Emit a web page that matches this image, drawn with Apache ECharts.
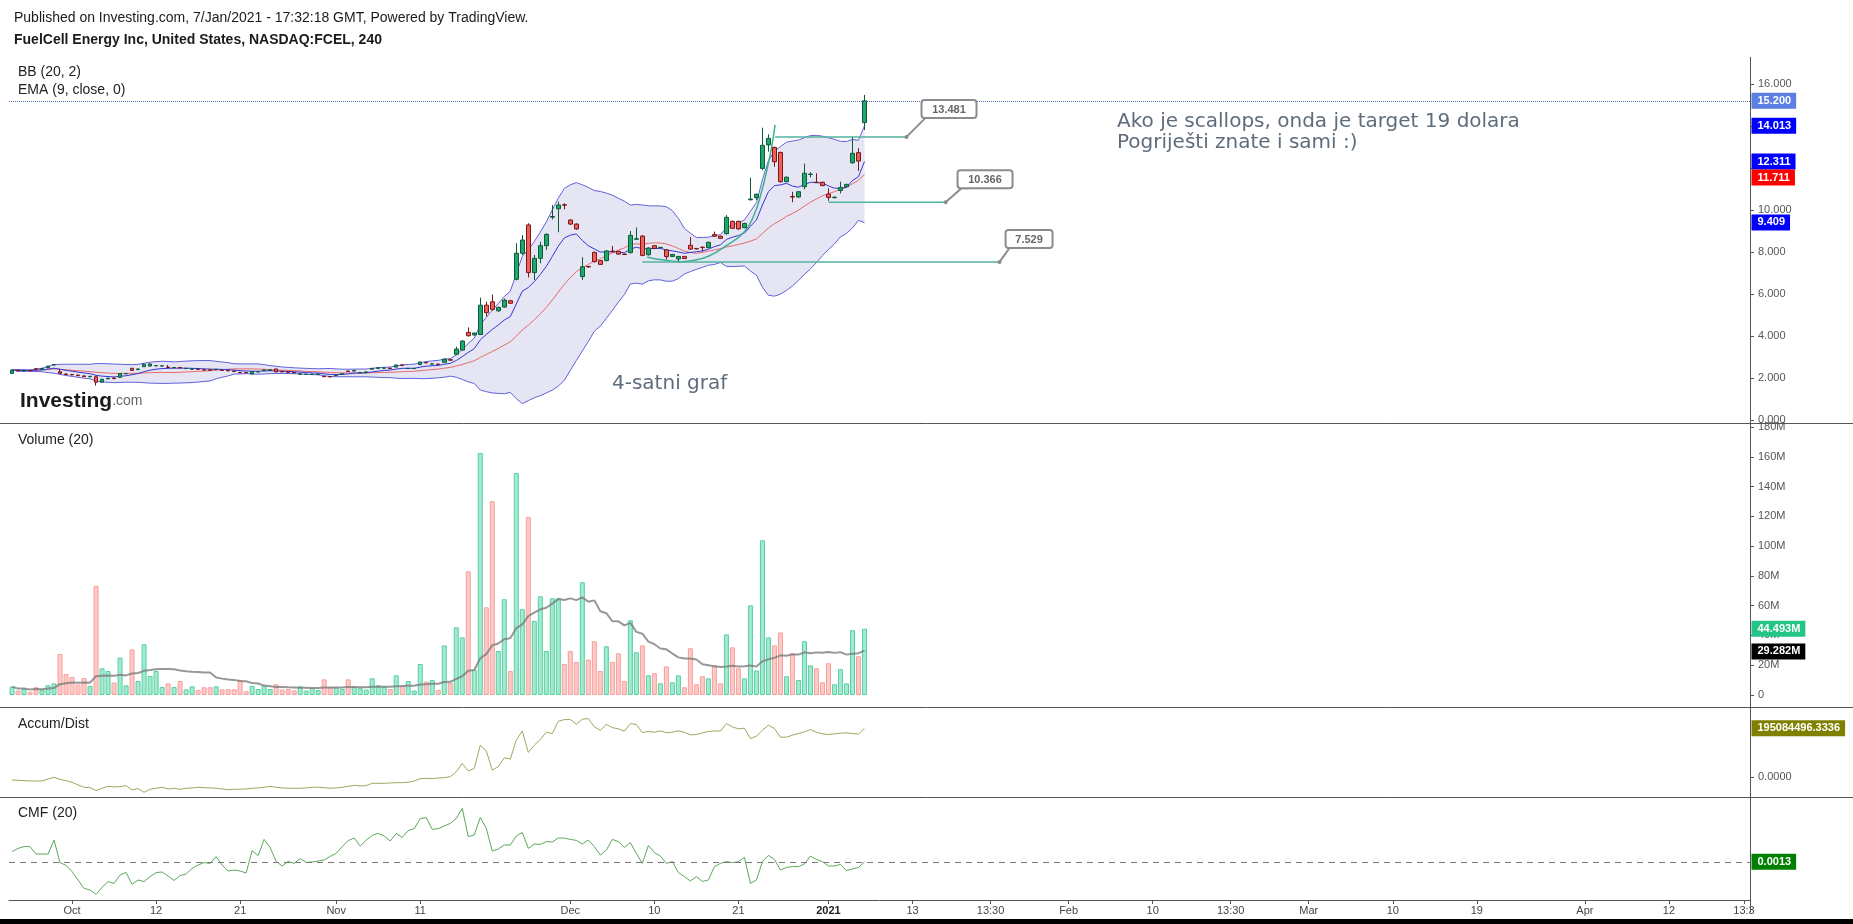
<!DOCTYPE html>
<html><head><meta charset="utf-8">
<script src="https://cdn.jsdelivr.net/npm/echarts@6/dist/echarts.min.js"></script>
<style>html,body{margin:0;padding:0;background:#fff}#c{width:1853px;height:924px}</style>
</head><body><div id="c"></div><script>
// ---------- DATA ----------
// 4h candles: [open, close, low, high]
const candles = [
[2.22,2.38,2.20,2.40],[2.36,2.34,2.32,2.38],[2.33,2.35,2.31,2.37],[2.36,2.34,2.32,2.37],[2.44,2.42,2.40,2.46],
[2.42,2.45,2.40,2.47],[2.49,2.56,2.47,2.58],[2.62,2.64,2.60,2.66],[2.30,2.22,2.20,2.40],[2.19,2.17,2.15,2.21],
[2.17,2.15,2.13,2.19],[2.14,2.11,2.10,2.16],[2.10,2.07,2.05,2.12],[2.06,2.08,2.04,2.10],[2.06,1.80,1.64,2.08],
[1.80,1.94,1.78,1.96],[1.96,1.99,1.94,2.01],[2.00,1.97,1.95,2.02],[2.03,2.21,2.01,2.23],[2.20,2.21,2.19,2.23],
[2.46,2.36,2.34,2.48],[2.40,2.43,2.38,2.45],[2.54,2.65,2.52,2.70],[2.57,2.67,2.55,2.69],[2.58,2.59,2.57,2.60],
[2.57,2.58,2.56,2.59],[2.52,2.50,2.49,2.62],[2.49,2.50,2.48,2.52],[2.50,2.48,2.47,2.51],[2.45,2.46,2.44,2.47],
[2.42,2.43,2.41,2.44],[2.42,2.41,2.40,2.43],[2.39,2.38,2.37,2.40],[2.39,2.37,2.36,2.40],[2.40,2.41,2.39,2.42],
[2.37,2.36,2.35,2.38],[2.36,2.34,2.33,2.37],[2.33,2.31,2.30,2.34],[2.27,2.25,2.24,2.28],[2.26,2.25,2.24,2.27],
[2.19,2.30,2.18,2.31],[2.29,2.30,2.28,2.31],[2.36,2.38,2.35,2.39],[2.37,2.39,2.36,2.40],[2.43,2.29,2.27,2.44],
[2.31,2.29,2.28,2.32],[2.29,2.27,2.26,2.30],[2.26,2.24,2.23,2.27],[2.18,2.20,2.17,2.21],[2.17,2.18,2.16,2.19],
[2.17,2.18,2.16,2.19],[2.17,2.19,2.16,2.20],[2.08,2.06,2.05,2.09],[2.07,2.05,2.04,2.08],[2.11,2.13,2.10,2.14],
[2.18,2.20,2.17,2.21],[2.33,2.31,2.30,2.34],[2.33,2.36,2.32,2.37],[2.25,2.26,2.24,2.27],[2.26,2.29,2.25,2.30],
[2.42,2.46,2.41,2.47],[2.46,2.49,2.45,2.50],[2.47,2.48,2.46,2.49],[2.47,2.45,2.44,2.48],[2.52,2.62,2.51,2.63],
[2.62,2.60,2.59,2.63],[2.45,2.46,2.44,2.47],[2.45,2.46,2.44,2.47],[2.64,2.76,2.62,2.78],[2.74,2.72,2.71,2.75],
[2.66,2.67,2.65,2.69],[2.66,2.65,2.64,2.67],[2.75,2.90,2.73,2.92],[2.87,2.85,2.84,2.88],[3.13,3.38,3.10,3.49],
[3.33,3.76,3.30,3.80],[4.17,4.01,3.98,4.41],[4.05,4.14,4.02,4.16],[4.07,5.47,4.05,5.83],[5.47,5.11,4.92,5.63],
[5.63,5.27,5.20,5.98],[5.20,5.36,5.15,5.40],[5.38,5.71,5.35,5.78],[5.68,5.56,5.54,5.72],[6.70,7.94,6.65,8.41],
[7.94,8.57,7.85,8.81],[9.29,7.02,6.79,9.37],[7.02,7.70,6.67,7.86],[7.70,8.30,7.46,8.49],[8.30,8.84,8.10,8.89],
[9.66,9.69,9.55,10.24],[10.06,10.24,8.94,10.40],[10.25,10.23,10.03,10.32],[9.52,9.33,9.28,9.56],[9.33,9.10,9.05,9.36],
[6.83,7.30,6.67,7.75],[7.31,7.29,7.25,7.34],[7.98,7.54,7.50,8.02],[7.59,7.41,7.38,7.62],[7.59,8.05,7.55,8.09],
[8.04,8.02,7.98,8.29],[8.03,7.90,7.87,8.06],[7.90,7.88,7.86,7.92],[7.97,8.79,7.93,9.00],[8.61,8.63,8.57,9.17],
[8.76,7.84,7.80,8.80],[7.87,8.19,7.83,8.22],[8.30,8.17,8.14,8.33],[8.20,8.22,8.18,8.24],[8.10,7.78,7.65,8.13],
[7.79,7.88,7.76,7.91],[7.67,7.79,7.55,7.81],[7.79,7.69,7.67,7.81],[8.32,8.14,8.10,8.71],[8.17,8.15,8.12,8.19],
[8.23,8.21,8.02,8.25],[8.21,8.46,8.18,8.49],[8.83,8.75,8.72,8.97],[8.75,8.65,8.62,8.78],[8.87,9.65,8.84,9.76],
[9.46,9.13,9.10,9.50],[9.46,9.10,9.06,9.49],[9.16,9.36,9.13,9.39],[10.49,10.52,10.45,11.54],[10.59,10.75,10.48,10.78],
[11.98,13.08,11.90,13.92],[13.10,13.41,12.78,13.60],[12.98,12.30,12.06,13.02],[12.74,11.35,11.30,12.78],[11.35,11.56,11.32,11.60],
[10.64,10.62,10.37,10.87],[10.62,10.87,10.58,10.90],[11.11,11.75,10.99,12.21],[11.69,11.71,11.55,11.80],[11.32,11.30,11.28,11.75],
[11.32,11.16,11.13,11.35],[10.76,10.60,10.44,11.03],[10.59,10.61,10.55,10.65],[10.93,11.06,10.79,11.35],[11.11,11.22,11.08,11.25],
[12.25,12.70,12.20,13.46],[12.73,12.33,11.86,12.94],[14.16,15.20,13.81,15.48]
];
// volume, millions
const volumes = [
5.6,3.0,4.3,2.1,5.2,3.4,6.5,7.8,27.6,14.1,12.1,7.0,11.4,6.1,73.3,17.9,16.1,8.3,25.1,6.5,
30.6,9.4,34.0,12.8,16.1,5.4,7.8,5.4,9.4,3.8,5.8,3.4,5.2,5.2,5.8,3.8,3.8,3.8,10.1,2.5,
6.1,4.0,6.1,4.0,7.2,3.6,4.0,3.1,5.8,3.0,4.9,3.4,10.5,5.2,5.2,4.0,10.5,5.4,4.5,3.6,
11.2,6.5,5.4,4.0,13.2,6.1,9.4,3.0,20.8,9.0,10.0,3.4,33.3,8.3,45.5,38.7,83.1,16.8,162.5,58.9,
130.2,29.5,64.3,16.1,149.0,57.6,119.5,49.8,66.3,29.5,65.0,65.0,20.8,29.5,22.2,75.7,23.8,36.1,16.1,32.7,
22.2,28.0,9.4,50.2,28.7,33.3,13.2,14.6,7.8,19.2,8.5,13.2,5.2,31.4,7.2,12.6,11.2,19.9,7.8,40.7,
32.0,17.9,11.2,60.2,16.5,103.9,38.7,33.3,42.0,12.6,28.0,10.1,36.1,19.9,17.9,8.5,21.3,7.2,17.3,7.8,
43.5,26.0,44.493
];
// Accumulation / Distribution, millions
const accumDist = [
-11.9,-13.3,-14.6,-15.9,-15.9,-15.9,-8.0,-1.3,-9.3,-14.6,-21.2,-31.8,-41.1,-42.5,-54.4,-45.1,-37.2,-39.8,-38.5,-34.5,
-51.8,-46.5,-61.1,-49.1,-45.1,-41.1,-47.8,-45.1,-49.1,-45.1,-43.8,-41.1,-42.5,-43.8,-45.1,-47.8,-50.4,-49.1,-49.1,-47.8,
-45.1,-43.8,-41.1,-37.2,-41.1,-43.8,-45.1,-45.1,-45.1,-43.8,-41.1,-41.1,-42.5,-45.1,-43.8,-41.1,-37.2,-33.2,-35.8,-34.5,
-25.2,-25.2,-25.2,-23.9,-22.6,-22.6,-21.2,-15.9,-6.6,-5.3,-6.6,-4.0,-2.7,1.3,21.2,54.4,23.9,34.5,127.4,104.8,
27.9,41.1,77.0,71.6,147.3,184.5,98.2,127.4,149.9,179.2,173.9,223.0,229.7,229.7,211.1,231.0,233.7,200.5,187.2,209.8,
197.8,192.5,183.2,213.7,209.8,177.9,181.9,179.2,184.5,176.6,179.2,184.5,179.2,168.6,169.9,176.6,181.9,184.5,183.2,213.7,
200.5,192.5,195.1,154.0,163.3,187.2,207.1,193.8,159.3,159.3,167.3,173.9,180.6,189.8,179.2,172.6,169.9,172.6,175.2,176.6,
173.9,171.2,195.0845
];
// Chaikin Money Flow (20)
const cmf = [
0.052,0.068,0.077,0.077,0.040,0.040,0.040,0.110,-0.003,-0.017,-0.048,-0.090,-0.132,-0.140,-0.162,-0.127,-0.098,-0.107,-0.065,-0.052,
-0.112,-0.090,-0.098,-0.073,-0.053,-0.050,-0.070,-0.092,-0.068,-0.060,-0.032,-0.015,-0.003,-0.007,0.027,-0.015,-0.045,-0.040,-0.045,-0.055,
0.057,0.032,0.113,0.072,0.003,-0.020,0.003,-0.007,0.017,-0.002,0.000,0.005,0.010,0.028,0.043,0.077,0.107,0.120,0.080,0.110,
0.133,0.143,0.130,0.105,0.143,0.123,0.157,0.167,0.217,0.222,0.163,0.167,0.180,0.193,0.218,0.268,0.127,0.135,0.223,0.168,
0.055,0.065,0.085,0.085,0.130,0.148,0.068,0.090,0.088,0.102,0.100,0.120,0.120,0.113,0.108,0.090,0.110,0.077,0.035,0.060,
0.113,0.102,0.073,0.097,0.043,-0.007,0.082,0.047,0.030,-0.007,0.002,-0.053,-0.073,-0.095,-0.073,-0.097,-0.090,-0.023,-0.007,0.002,
-0.003,0.002,0.023,-0.107,-0.090,0.002,0.033,0.013,-0.040,-0.027,-0.023,-0.023,-0.010,0.030,0.013,0.002,-0.020,-0.020,-0.012,-0.043,
-0.035,-0.027,0.0013
];
// time-axis ticks (bar slot index) and their labels
const xTickIdx  = [10,24,38,54,68,93,107,121,136,150,163,176,190,203,216,230,244,262,276,288.5];
const xTickText = ['Oct','12','21','Nov','11','Dec','10','21','2021','13','13:30','Feb','10','13:30','Mar','10','19','Apr','12','13:3'];
// drawing annotations (bar index, price)
const arcIdx   = [105.8,107.5,109.5,111.5,113.5,116,119,122,123.6,124.7,125.8,126.6,127.1];
const arcPrice = [7.76,7.66,7.58,7.54,7.60,7.80,8.30,8.97,9.76,10.71,11.98,13.10,14.05];
const levelPrice = [13.481, 10.366, 7.529];
const levelStart = [127.1, 136, 105];
const levelEnd   = [149, 155.5, 164.5];
const levelText  = ['13.481','10.366','7.529'];
// last-value tags
const priceTagValues = [15.2, 14.013, 12.311, 11.711, 9.409];
const priceTagText   = ['15.200','14.013','12.311','11.711','9.409'];
const priceTagColors = ['#5b7fe2','#0000ff','#0000ff','#ff0000','#0000ff'];
const volTagValues = [44.493, 29.282];
const volTagText   = ['44.493M','29.282M'];
const volTagColors = ['#22c487','#000000'];
const adTagText = '195084496.3336';
const cmfTagText = '0.0013';

// ---------- indicators derived from the data ----------
const N = candles.length;
const closes = candles.map(c => c[1]);
const bbUp = [], bbLo = [], bbMid = [], ema = [], volMA = [];
for (let i = 0; i < N; i++) {
  const s = Math.max(0, i - 19);
  const w = closes.slice(s, i + 1);
  const m = w.reduce((a, b) => a + b, 0) / w.length;
  const sd = Math.sqrt(w.reduce((a, b) => a + (b - m) * (b - m), 0) / w.length);
  bbMid.push([i, m]); bbUp.push([i, m + 2 * sd]); bbLo.push([i, m - 2 * sd]);
  const vw = volumes.slice(s, i + 1);
  volMA.push([i, vw.reduce((a, b) => a + b, 0) / vw.length]);
}
let e = closes[0];
for (let i = 0; i < N; i++) { e = i === 0 ? closes[0] : closes[i] * 0.2 + e * 0.8; ema.push([i, e]); }

// ---------- chart ----------
const FONT = '"Liberation Sans", Arial, sans-serif';
const chart = echarts.init(document.getElementById('c'));
const L = 9, R = 103;
const xMin = -0.5, xMax = 289.5;
const hiddenX = g => ({ type: 'value', gridIndex: g, min: xMin, max: xMax, show: false });
const lineBase = { type: 'line', symbol: 'none', silent: true, animation: false };
const yLine = { show: false, onZero: false };

const option = {
  animation: false,
  backgroundColor: '#ffffff',
  grid: [
    { left: L, right: R, top: 84, height: 336 },
    { left: L, right: R, top: 427, height: 268 },
    { left: L, right: R, top: 707, height: 90 },
    { left: L, right: R, top: 797, height: 103 }
  ],
  xAxis: [
    hiddenX(0), hiddenX(1), hiddenX(2),
    { type: 'value', gridIndex: 3, min: xMin, max: xMax,
      axisLine: { onZero: false, lineStyle: { color: '#555', width: 1 } },
      axisTick: { customValues: xTickIdx, length: 4, lineStyle: { color: '#555' } },
      axisLabel: { customValues: xTickIdx, color: '#444', fontSize: 11, fontFamily: FONT, margin: 5,
        formatter: v => { const k = xTickIdx.findIndex(t => Math.abs(t - v) < 1e-6); const s = k >= 0 ? xTickText[k] : ''; return s === '2021' ? '{b|2021}' : s; },
        rich: { b: { fontWeight: 'bold', fontSize: 11, color: '#222', fontFamily: FONT } } },
      splitLine: { show: false } }
  ],
  yAxis: [
    { type: 'value', gridIndex: 0, position: 'right', min: 0, max: 16, interval: 2,
      axisLine: yLine, axisTick: { show: true, length: 4, lineStyle: { color: '#555' } },
      axisLabel: { formatter: v => v.toFixed(3), color: '#555', fontSize: 11, fontFamily: FONT, margin: 8 },
      splitLine: { show: false } },
    { type: 'value', gridIndex: 1, position: 'right', min: 0, max: 180, interval: 20,
      axisLine: yLine, axisTick: { show: true, length: 4, lineStyle: { color: '#555' } },
      axisLabel: { formatter: v => v === 0 ? '0' : v + 'M', color: '#555', fontSize: 11, fontFamily: FONT, margin: 8 },
      splitLine: { show: false } },
    { type: 'value', gridIndex: 2, position: 'right', min: -80, max: 280,
      axisLine: yLine,
      axisTick: { show: true, customValues: [0], length: 4, lineStyle: { color: '#555' } },
      axisLabel: { customValues: [0], formatter: () => '0.0000', color: '#555', fontSize: 11, fontFamily: FONT, margin: 8 },
      splitLine: { show: false } },
    { type: 'value', gridIndex: 3, position: 'right', min: -0.19, max: 0.325,
      axisLine: yLine, axisTick: { show: false }, axisLabel: { show: false }, splitLine: { show: false } }
  ],
  series: [
    // Bollinger band fill: one polygon between the upper and lower band, drawn through the axes
    { type: 'custom', xAxisIndex: 0, yAxisIndex: 0, silent: true, z: 1, data: bbUp,
      renderItem: (params, api) => {
        if (params.dataIndex !== 0) return null;
        const pts = bbUp.map(d => api.coord(d)).concat(bbLo.slice().reverse().map(d => api.coord(d)));
        return { type: 'polygon', shape: { points: pts }, style: { fill: '#e5e5f3' } };
      } },
    { ...lineBase, xAxisIndex: 0, yAxisIndex: 0, data: bbUp, lineStyle: { color: '#6262dc', width: 1 }, z: 3 },
    { ...lineBase, xAxisIndex: 0, yAxisIndex: 0, data: bbLo, lineStyle: { color: '#6262dc', width: 1 }, z: 3 },
    { ...lineBase, xAxisIndex: 0, yAxisIndex: 0, data: bbMid, lineStyle: { color: '#e86a6c', width: 1 }, z: 3 },
    { ...lineBase, xAxisIndex: 0, yAxisIndex: 0, data: ema, lineStyle: { color: '#3636d6', width: 1 }, z: 3 },
    // drawings
    { ...lineBase, xAxisIndex: 0, yAxisIndex: 0, smooth: true, data: arcIdx.map((x, k) => [x, arcPrice[k]]), lineStyle: { color: '#3fae95', width: 1.5 }, z: 4 },
    ...levelPrice.map((p, k) => ({ ...lineBase, xAxisIndex: 0, yAxisIndex: 0, data: [[levelStart[k], p], [levelEnd[k], p]], lineStyle: { color: '#52b39f', width: 1.5 }, z: 4 })),
    // candles
    { type: 'candlestick', xAxisIndex: 0, yAxisIndex: 0, silent: true, barWidth: 4,
      data: candles.map((c, i) => [i, c[0], c[1], c[2], c[3]]),
      itemStyle: { color: '#1fa86b', color0: '#f0605a', borderColor: '#0d5a36', borderColor0: '#7a1616', borderWidth: 1 },
      markLine: { silent: true, symbol: 'none', label: { show: false }, lineStyle: { type: 'dotted', color: '#4d6fae', width: 1 }, data: [{ yAxis: 15.2 }] },
      z: 5 },
    // volume
    { type: 'bar', xAxisIndex: 1, yAxisIndex: 1, barWidth: 5, silent: true,
      data: volumes.map((v, i) => {
        const up = candles[i][1] >= candles[i][0];
        return { value: [i, v], itemStyle: up ? { color: '#a3ead0', borderColor: '#56d0a2', borderWidth: 1 } : { color: '#ffc9c7', borderColor: '#f5a09c', borderWidth: 1 } };
      }), z: 2 },
    { ...lineBase, xAxisIndex: 1, yAxisIndex: 1, data: volMA, lineStyle: { color: '#7d7d7d', width: 2, opacity: 0.8 }, z: 3 },
    // accumulation / distribution
    { ...lineBase, xAxisIndex: 2, yAxisIndex: 2, data: accumDist.map((v, i) => [i, v]), lineStyle: { color: '#a6a45e', width: 1 }, z: 3 },
    // CMF
    { ...lineBase, xAxisIndex: 3, yAxisIndex: 3, data: cmf.map((v, i) => [i, v]), lineStyle: { color: '#5ea65b', width: 1 }, z: 3,
      markLine: { silent: true, symbol: 'none', label: { show: false }, lineStyle: { type: [6, 5], color: '#777', width: 1 }, data: [{ yAxis: 0 }] } }
  ]
};
chart.setOption(option);

// ---------- graphics: texts, pane separators, tags, callouts ----------
const AX = 1750.5;
const txt = (x, y, text, font, fill, extra) => ({ type: 'text', x, y, z: 50, silent: true, style: Object.assign({ text, font, fill, verticalAlign: 'middle' }, extra || {}) });
const hline = (y) => ({ type: 'line', z: 40, silent: true, shape: { x1: 0, y1: y, x2: 1853, y2: y }, style: { stroke: '#555', lineWidth: 1 } });
const gfx = [
  txt(14, 18, 'Published on Investing.com, 7/Jan/2021 - 17:32:18 GMT, Powered by TradingView.', '14px ' + FONT, '#1a1a1a'),
  txt(14, 40, 'FuelCell Energy Inc, United States, NASDAQ:FCEL, 240', 'bold 14px ' + FONT, '#1a1a1a'),
  txt(18, 72, 'BB (20, 2)', '14px ' + FONT, '#222'),
  txt(18, 90, 'EMA (9, close, 0)', '14px ' + FONT, '#222'),
  txt(18, 440, 'Volume (20)', '14px ' + FONT, '#222'),
  txt(18, 724, 'Accum/Dist', '14px ' + FONT, '#222'),
  txt(18, 813, 'CMF (20)', '14px ' + FONT, '#222'),
  txt(1117, 122, 'Ako je scallops, onda je target 19 dolara', '20px "DejaVu Sans"', '#5e6c7b'),
  txt(1117, 143, 'Pogriješti znate i sami :)', '20px "DejaVu Sans"', '#5e6c7b'),
  txt(612, 384, '4-satni graf', '20px "DejaVu Sans"', '#5e6c7b'),
  { type: 'text', x: 20, y: 401, z: 50, silent: true, style: { text: '{a|Investing}{b|.com}', verticalAlign: 'middle',
      rich: { a: { font: 'bold 21px ' + FONT, fill: '#1b1b1b' }, b: { font: '14px ' + FONT, fill: '#666' } } } },
  hline(423.5), hline(707.5), hline(797.5),
  { type: 'line', z: 40, silent: true, shape: { x1: AX, y1: 57, x2: AX, y2: 912 }, style: { stroke: '#555', lineWidth: 1 } },
  { type: 'rect', z: 40, silent: true, shape: { x: 0, y: 919, width: 1853, height: 5 }, style: { fill: '#000' } }
];
const TAG_H = 16;
const tagAt = (y, text, bg) => {
  gfx.push({ type: 'text', x: AX + 1, y, z: 60, silent: true,
    style: { text, font: 'bold 11px ' + FONT, fill: '#fff', backgroundColor: bg, padding: [3, 5, 2, 6], verticalAlign: 'middle' } });
};
// price tags: pushed apart when they would overlap (as the price scale does)
const ptags = priceTagValues.map((v, k) => ({ y: chart.convertToPixel({ yAxisIndex: 0 }, v), k })).sort((a, b) => a.y - b.y);
let lastY = -1e9;
ptags.forEach(t => { const y = Math.max(t.y, lastY + TAG_H); lastY = y; tagAt(y, priceTagText[t.k], priceTagColors[t.k]); });
volTagValues.forEach((v, k) => tagAt(chart.convertToPixel({ yAxisIndex: 1 }, v), volTagText[k], volTagColors[k]));
tagAt(chart.convertToPixel({ yAxisIndex: 2 }, accumDist[N - 1]), adTagText, '#808000');
tagAt(chart.convertToPixel({ yAxisIndex: 3 }, cmf[N - 1]), cmfTagText, '#008000');
// callouts for the horizontal level drawings (box offsets from the line end, px)
const calloutDx = [15, 12, 6], calloutDy = [-37, -32, -32];
levelPrice.forEach((p, k) => {
  const [ex, ey] = chart.convertToPixel({ gridIndex: 0 }, [levelEnd[k], p]);
  const bw = levelText[k].length * 8 + 7, bh = 18;
  const bx = ex + calloutDx[k], by = ey + calloutDy[k];
  gfx.push({ type: 'polyline', z: 55, silent: true, shape: { points: [[ex, ey], [bx + 4, by + bh], [bx + 12, by + bh]] }, style: { stroke: '#8c8c8c', lineWidth: 2, fill: null } });
  gfx.push({ type: 'circle', z: 56, silent: true, shape: { cx: ex, cy: ey, r: 2 }, style: { fill: '#8c8c8c' } });
  gfx.push({ type: 'rect', z: 57, silent: true, shape: { x: bx, y: by, width: bw, height: bh, r: 3 }, style: { fill: '#fff', stroke: '#8c8c8c', lineWidth: 2 } });
  gfx.push({ type: 'text', z: 58, silent: true, x: bx + bw / 2, y: by + bh / 2 + 1, style: { text: levelText[k], font: 'bold 11px ' + FONT, fill: '#666', align: 'center', verticalAlign: 'middle' } });
});
chart.setOption({ graphic: gfx });
</script></body></html>
